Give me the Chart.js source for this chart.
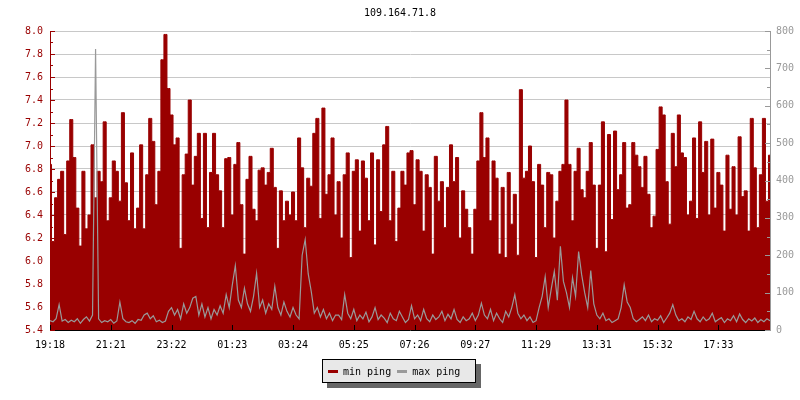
<!DOCTYPE html>
<html>
<head>
<meta charset="utf-8">
<script src="https://cdn.jsdelivr.net/npm/chart.js@4.4.1/dist/chart.umd.min.js"></script>
<style>
    body { margin: 0; background: #fff; }
    #wrap { position: relative; width: 800px; height: 400px; }
    #legend {
        position: absolute; left: 322px; top: 359px; width: 152px; height: 22px;
        border: 1px solid #000; background: #e8e8e8; box-shadow: 5px 5px 0 #666;
        font: 10px "DejaVu Sans Mono", monospace; color: #000;
        display: flex; align-items: center;
    }
    .sw { display: inline-block; width: 10px; height: 3px; margin: 0 5px 0 5px; }
</style>
</head>
<body>
<div id="wrap">
    <canvas id="pingChart" width="800" height="400"></canvas>
    <div id="legend">
        <span class="sw" style="background:#990000"></span>min ping
        <span class="sw" style="background:#999999;margin-left:6px"></span>max ping
    </div>
</div>
<script>
var tickLabels = ['19:18', '21:21', '23:22', '01:23', '03:24', '05:25', '07:26', '09:27', '11:29', '13:31', '15:32', '17:33'];

// min ping, left axis (ms)
var minPing = [
    6.84, 6.17, 6.55, 6.71, 6.78, 6.23, 6.87, 7.23, 6.9, 6.46,
    6.13, 6.78, 6.28, 6.4, 7.01, 6.55, 6.78, 6.69, 7.21, 6.35,
    6.55, 6.87, 6.78, 6.52, 7.29, 6.68, 6.35, 6.94, 6.28, 6.46,
    7.01, 6.28, 6.75, 7.24, 7.04, 6.49, 6.78, 7.75, 7.97, 7.5,
    7.27, 7.01, 7.07, 6.11, 6.75, 6.93, 7.4, 6.66,
    6.91, 7.11, 6.37, 7.11, 6.29, 6.77, 7.11, 6.75, 6.61, 6.29,
    6.89, 6.9, 6.4, 6.84, 7.03, 6.49, 6.06, 6.71, 6.91, 6.45,
    6.35, 6.79, 6.81, 6.66, 6.77, 6.98, 6.64, 6.11, 6.61, 6.35,
    6.52, 6.4, 6.6, 6.35, 7.07, 6.81, 6.29, 6.72, 6.65, 7.11,
    7.24, 6.37, 7.33, 6.58, 6.75, 7.07, 6.4,
    6.69, 6.2, 6.75, 6.94, 6.03, 6.78, 6.88, 6.26, 6.87, 6.72,
    6.35, 6.94, 6.14, 6.88, 6.43, 7.01, 7.17, 6.35, 6.78, 6.17,
    6.46, 6.78, 6.66, 6.94, 6.96, 6.49, 6.88, 6.78, 6.26, 6.75,
    6.64, 6.06, 6.91, 6.52, 6.69, 6.29, 6.64, 7.01, 6.69, 6.9,
    6.2, 6.61, 6.45, 6.29, 6.06, 6.45, 6.87, 7.29,
    6.9, 7.07, 6.35, 6.87, 6.72, 6.06, 6.64, 6.03, 6.77, 6.32,
    6.58, 6.05, 7.49, 6.72, 6.78, 7.0, 6.69, 6.03, 6.84, 6.66,
    6.29, 6.77, 6.75, 6.2, 6.52, 6.78, 6.84, 7.4, 6.84, 6.35,
    6.78, 6.98, 6.62, 6.55, 6.78, 7.03, 6.66, 6.11, 6.66, 7.21,
    6.08, 7.1, 6.36, 7.13, 6.62, 6.75, 7.03,
    6.46, 6.49, 7.03, 6.92, 6.82, 6.64, 6.91, 6.58, 6.29, 6.39,
    6.97, 7.34, 7.27, 6.69, 6.32, 7.11, 6.82, 7.27, 6.94, 6.9,
    6.4, 6.52, 7.07, 6.37, 7.21, 6.77, 7.04, 6.4, 7.06, 6.46,
    6.77, 6.66, 6.26, 6.92, 6.45, 6.82, 6.4, 7.08, 6.56, 6.61,
    6.26, 7.24, 6.81, 6.29, 6.75, 7.24, 6.52, 6.92
];

// max ping, right axis (ms)
var maxPing = [
    25, 22, 30, 68, 24, 28, 20, 26, 22, 30,
    18, 28, 35, 24, 40, 752, 30, 20, 25, 22,
    28, 18, 24, 75, 30, 22, 20, 25, 18, 28,
    26, 40, 45, 30, 38, 22, 26, 20, 24, 50,
    60, 40, 55, 30, 70, 45, 60, 85,
    90, 40, 70, 35, 60, 30, 55, 40, 65, 45,
    95, 60, 120, 172, 80, 60, 112, 70, 50, 90,
    152, 60, 80, 45, 70, 55, 117, 60, 40, 75,
    50, 35, 60, 40, 30, 200, 242, 150, 103, 45,
    60, 35, 55, 30, 45, 25, 40,
    40, 28, 95, 45, 30, 55, 25, 40, 30, 48,
    22, 35, 60, 28, 40, 32, 20, 45, 30, 25,
    50, 35, 20, 28, 65, 30, 40, 25, 55, 30,
    22, 40, 28, 35, 50, 25, 42, 30, 55, 28,
    20, 35, 25, 30, 45, 25, 40, 72,
    40, 30, 55, 25, 45, 30, 20, 50, 35, 60,
    95, 45, 30, 40, 25, 35, 20, 25, 60, 90,
    143, 60, 110, 157, 80, 224, 130, 100, 60, 140,
    90, 210, 148, 100, 60, 159, 70, 40, 30, 45,
    25, 30, 20, 25, 30, 60, 121,
    75, 60, 30, 22, 28, 35, 25, 40, 22, 30,
    26, 38, 20, 32, 45, 68, 40, 25, 30, 22,
    35, 28, 50, 30, 22, 35, 25, 30, 45, 22,
    28, 33, 20, 30, 25, 38, 22, 43, 28, 20,
    30, 24, 32, 20, 28, 22, 30, 25
];

// a label every 20 samples, empty in between
var labels = minPing.map((v, i) => i % 20 === 0 ? (tickLabels[i / 20] || '') : '');

var monoFont = { family: '"DejaVu Sans Mono", monospace', size: 10, weight: 'normal' };

// inward tick marks like the original rrd-style graph
var tickMarks = {
    id: 'tickMarks',
    afterDraw: function (chart) {
        var ctx = chart.ctx;
        var a = chart.chartArea;
        var s = chart.scales;
        ctx.save();
        ctx.lineWidth = 1;

        ctx.strokeStyle = '#990000';
        for (var k = 54; k <= 80; k++) {
            var y = Math.round(s.y.getPixelForValue(k / 10)) + 0.5;
            var len = k % 2 === 0 ? 5 : 3;
            ctx.beginPath(); ctx.moveTo(a.left, y); ctx.lineTo(a.left + len, y); ctx.stroke();
        }

        ctx.strokeStyle = '#999999';
        for (var v = 0; v <= 800; v += 50) {
            var y2 = Math.round(s.y2.getPixelForValue(v)) + 0.5;
            var len2 = v % 100 === 0 ? 5 : 3;
            ctx.beginPath(); ctx.moveTo(a.right - len2, y2); ctx.lineTo(a.right, y2); ctx.stroke();
        }

        ctx.strokeStyle = '#000';
        labels.forEach(function (lab, i) {
            if (!lab) return;
            var x = Math.round(s.x.getPixelForValue(i)) + 0.5;
            ctx.beginPath(); ctx.moveTo(x, a.bottom); ctx.lineTo(x, a.bottom - 5); ctx.stroke();
        });
        ctx.restore();
    }
};

var ctx = document.getElementById('pingChart').getContext('2d');
var pingChart = new Chart(ctx, {
    type: 'line',
    data: {
        labels: labels,
        datasets: [
            {
                label: 'min ping',
                data: minPing,
                yAxisID: 'y',
                borderColor: '#990000',
                backgroundColor: '#990000',
                borderWidth: 1,
                pointRadius: 0,
                stepped: 'middle',
                fill: 'start',
                order: 2
            },
            {
                label: 'max ping',
                data: maxPing,
                yAxisID: 'y2',
                borderColor: '#999999',
                borderWidth: 1.2,
                pointRadius: 0,
                fill: false,
                order: 1
            }
        ]
    },
    options: {
        responsive: false,
        animation: false,
        layout: { padding: { top: 0, left: 0, right: 0, bottom: 50 } },
        plugins: {
            legend: { display: false },
            tooltip: { enabled: false },
            title: {
                display: true,
                text: '109.164.71.8',
                color: '#000',
                font: monoFont,
                padding: { top: 7, bottom: 12 }
            }
        },
        scales: {
            x: {
                grid: { display: false, drawTicks: false },
                border: { display: true, color: '#000' },
                ticks: {
                    autoSkip: false,
                    maxRotation: 0,
                    padding: 9,
                    color: '#000',
                    font: monoFont,
                    callback: function (value, index) { return labels[index]; }
                },
                afterFit: function (scale) { scale.height = 20; }
            },
            y: {
                position: 'left',
                min: 5.4,
                max: 8.0,
                grid: { color: '#c8c8c8', drawTicks: false },
                border: { display: true, color: '#990000' },
                ticks: {
                    stepSize: 0.2,
                    padding: 7,
                    color: '#990000',
                    font: monoFont,
                    callback: function (value) { return value.toFixed(1); }
                },
                afterFit: function (scale) { scale.width = 50; }
            },
            y2: {
                position: 'right',
                min: 0,
                max: 800,
                grid: { drawOnChartArea: false, drawTicks: false },
                border: { display: true, color: '#999999' },
                ticks: {
                    stepSize: 100,
                    padding: 6,
                    color: '#999999',
                    font: monoFont
                },
                afterFit: function (scale) { scale.width = 30; }
            }
        }
    },
    plugins: [tickMarks]
});
</script>
</body>
</html>
